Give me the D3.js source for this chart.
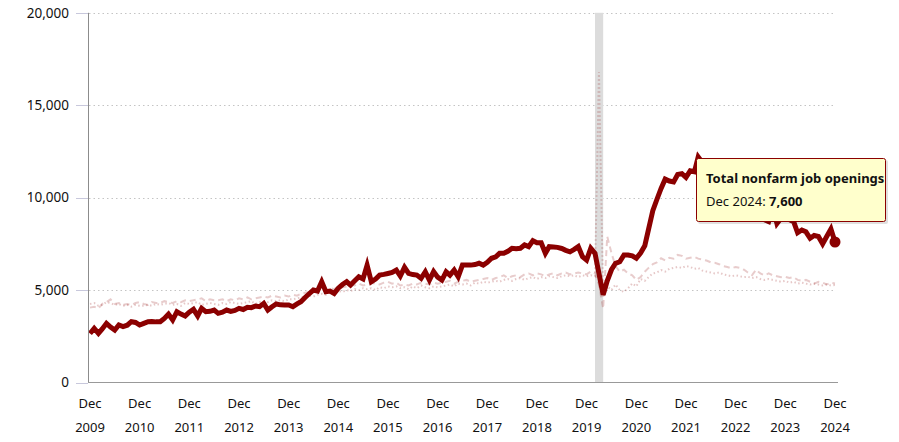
<!DOCTYPE html>
<html>
<head>
<meta charset="utf-8">
<script src="https://cdn.jsdelivr.net/npm/d3@7/dist/d3.min.js"></script>
<style>
  body { margin: 0; background: #fff; }
  text { font-family: "Noto Sans", sans-serif; }
</style>
</head>
<body>
<div id="chart-area"></div>
<script>
// monthly series, Dec 2009 .. Dec 2024 (thousands)
var firstMonth = "2009-12";
var lastMonth = "2024-12";

var openings = [
  2650,
  2930, 2660, 2900, 3200, 3000, 2840, 3110, 3020, 3100, 3290, 3250, 3110,
  3200, 3290, 3300, 3280, 3290, 3470, 3700, 3380, 3830, 3700, 3600, 3800,
  3960, 3600, 4010, 3830, 3850, 3920, 3740, 3800, 3920, 3850, 3900, 4010,
  3950, 4070, 4050, 4140, 4100, 4280, 3920, 4100, 4250, 4200, 4190, 4190,
  4100, 4250, 4370, 4600, 4800, 5000, 4950, 5450, 4910, 4950, 4820, 5100,
  5300, 5450, 5270, 5500, 5720, 5600, 6350, 5450, 5600, 5810, 5850, 5900,
  5950, 6080, 5760, 6230, 5900, 5840, 5810, 5630, 5990, 5540, 6000, 5700,
  5540, 5990, 5810, 6080, 5720, 6350, 6350, 6350, 6380, 6450, 6350, 6500,
  6720, 6800, 6990, 6990, 7100, 7260, 7240, 7260, 7440, 7350, 7670, 7560,
  7560, 6990, 7350, 7330, 7310, 7250, 7150, 7070, 7200, 7350, 6800, 6620,
  7260, 6990, 5900, 4750, 5500, 6100, 6450, 6530, 6900, 6900, 6850, 6720,
  7000, 7400, 8300, 9300, 9900, 10500, 11000, 10900, 10850, 11250, 11300, 11100,
  11450, 11400, 12200, 11900, 11500, 11000, 11200, 10300, 10700, 10500, 10700, 11000,
  10500, 9800, 9700, 10100, 9300, 9100, 8800, 8700, 9500, 8600, 8900, 8900,
  8800, 8700, 8100, 8250, 8150, 7800, 7950, 7900, 7500, 7900, 8300, 7600
];

var hires = [
  4050,
  4100, 4000, 4250, 4350, 4500, 4250, 4300, 4200, 4250, 4200, 4300, 4350,
  4250, 4200, 4350, 4300, 4300, 4400, 4350, 4300, 4400, 4350, 4450, 4400,
  4450, 4500, 4550, 4400, 4500, 4450, 4450, 4500, 4400, 4500, 4450, 4550,
  4500, 4600, 4500, 4550, 4600, 4650, 4600, 4700, 4650, 4600, 4700, 4650,
  4750, 4700, 4800, 4850, 4900, 4950, 5000, 5050, 4950, 5100, 5050, 5200,
  5150, 5200, 5300, 5250, 5350, 5250, 5300, 5400, 5350, 5300, 5400, 5450,
  5350, 5400, 5250, 5300, 5250, 5350, 5300, 5400, 5350, 5300, 5400, 5350,
  5400, 5450, 5500, 5350, 5450, 5500, 5550, 5450, 5500, 5550, 5600, 5650,
  5550, 5650, 5700, 5800, 5650, 5750, 5800, 5700, 5850, 5900, 5800, 5900,
  5850, 5750, 5850, 5900, 5800, 5900, 5950, 5850, 5900, 5950, 5900, 5850,
  6000, 5900, 5300, 4000, 7900, 7000, 6300, 6000, 6100, 5900, 5800, 5550,
  5700, 5990, 6200, 6400, 6500, 6720, 6600, 6750, 6700, 6900, 6850, 6700,
  6750, 6800, 6700, 6650, 6600, 6500, 6480, 6400, 6300, 6250, 6180, 6250,
  6200, 6100, 5950, 5810, 6100, 5900, 5800, 5900, 5800, 5750, 5700, 5720,
  5650, 5700, 5550, 5500, 5550, 5450, 5350, 5450, 5400, 5300, 5400, 5360
];

var separations = [
  4250,
  4300, 4150, 4200, 4350, 4300, 4200, 4250, 4150, 4200, 4100, 4200, 4150,
  4150, 4200, 4150, 4250, 4200, 4250, 4300, 4200, 4250, 4150, 4300, 4250,
  4300, 4350, 4200, 4250, 4300, 4250, 4200, 4300, 4250, 4350, 4300, 4250,
  4300, 4350, 4400, 4250, 4350, 4400, 4350, 4450, 4400, 4450, 4400, 4500,
  4500, 4550, 4600, 4650, 4700, 4650, 4750, 4800, 4750, 4850, 4800, 4950,
  4900, 5000, 4950, 5050, 5000, 5100, 5050, 5100, 5000, 5150, 5100, 5200,
  5150, 5200, 5100, 5150, 5050, 5200, 5100, 5250, 5150, 5100, 5200, 5150,
  5200, 5250, 5300, 5200, 5350, 5300, 5350, 5250, 5400, 5350, 5450, 5400,
  5450, 5500, 5450, 5550, 5600, 5500, 5600, 5650, 5550, 5650, 5700, 5600,
  5700, 5650, 5750, 5700, 5650, 5750, 5800, 5750, 5800, 5700, 5800, 5750,
  5800, 5750, 16800, 4600, 5200, 5000, 5300, 5000, 4900, 5100, 5360, 5200,
  5600, 5500, 5700, 5900, 5950, 6080, 6000, 6150, 6200, 6250, 6200, 6300,
  6250, 6150, 6200, 6050, 6000, 5950, 5900, 5950, 5850, 5800, 5750, 5800,
  5750, 5700, 5720, 5650, 5700, 5600, 5550, 5600, 5550, 5500, 5450, 5500,
  5400, 5450, 5350, 5400, 5350, 5300, 5350, 5300, 5250, 5300, 5250, 5270
];

var yTicks = [0, 5000, 10000, 15000, 20000];
var tickYears = [2009, 2010, 2011, 2012, 2013, 2014, 2015, 2016, 2017, 2018, 2019, 2020, 2021, 2022, 2023, 2024];
var recession = ["2020-02", "2020-04"];
var tipTitle = "Total nonfarm job openings";
var tipLabel = "Dec 2024: ";
var tipValue = "7,600";

var parseMonth = d3.timeParse("%Y-%m");
var months = d3.timeMonth.range(parseMonth(firstMonth), d3.timeMonth.offset(parseMonth(lastMonth), 1));

var width = 899, height = 442;

var svg = d3.select("#chart-area").append("svg")
    .attr("width", width)
    .attr("height", height);

// Scales
var x = d3.scaleTime()
    .domain([parseMonth(firstMonth), parseMonth(lastMonth)])
    .range([90, 835]);
var y = d3.scaleLinear()
    .domain([0, 20000])
    .range([382.5, 12.8]);

// gridlines
svg.append("g").selectAll("line")
    .data(yTicks.filter(function (d) { return d > 0; }))
    .enter().append("line")
    .attr("x1", 89).attr("x2", 836)
    .attr("y1", function (d) { return Math.round(y(d)) + 0.5; })
    .attr("y2", function (d) { return Math.round(y(d)) + 0.5; })
    .attr("stroke", "#c4c4c4")
    .attr("stroke-width", 1)
    .attr("stroke-dasharray", "1.5,3");

// recession shading
svg.append("rect")
    .attr("x", x(parseMonth(recession[0])))
    .attr("width", x(parseMonth(recession[1])) - x(parseMonth(recession[0])))
    .attr("y", y(20000))
    .attr("height", y(0) - y(20000))
    .attr("fill", "#dcdcdc");

var lineGen = function (vals) {
    return d3.line()
        .x(function (d, i) { return x(months[i]); })
        .y(function (d) { return y(d); })(vals);
};

// faded comparison series
svg.append("path")
    .attr("d", lineGen(separations))
    .attr("fill", "none")
    .attr("stroke", "#8b0000")
    .attr("stroke-opacity", 0.22)
    .attr("stroke-width", 2)
    .attr("stroke-dasharray", "1.5,2.5");

svg.append("path")
    .attr("d", lineGen(hires))
    .attr("fill", "none")
    .attr("stroke", "#8b0000")
    .attr("stroke-opacity", 0.2)
    .attr("stroke-width", 2)
    .attr("stroke-dasharray", "6,4");

// main series
svg.append("path")
    .attr("d", lineGen(openings))
    .attr("fill", "none")
    .attr("stroke", "#8b0000")
    .attr("stroke-width", 5)
    .attr("stroke-linejoin", "miter");

// y axis
var yAxis = svg.append("g");
yAxis.append("line")
    .attr("x1", 88.5).attr("x2", 88.5)
    .attr("y1", y(20000)).attr("y2", y(0))
    .attr("stroke", "#8c8c8c");
yAxis.selectAll(".tick")
    .data(yTicks).enter().append("line")
    .attr("x1", 76).attr("x2", 88)
    .attr("y1", function (d) { return Math.round(y(d)) + 0.5; })
    .attr("y2", function (d) { return Math.round(y(d)) + 0.5; })
    .attr("stroke", "#c8c8dc");
yAxis.selectAll("text")
    .data(yTicks).enter().append("text")
    .attr("x", 69)
    .attr("y", function (d) { return y(d); })
    .attr("dy", "0.35em")
    .attr("text-anchor", "end")
    .attr("font-size", 13.5)
    .attr("fill", "#111")
    .text(d3.format(","));

// x axis
svg.append("line")
    .attr("x1", 88).attr("x2", 838)
    .attr("y1", 382.5).attr("y2", 382.5)
    .attr("stroke", "#999");

var xLabels = svg.append("g").selectAll("g")
    .data(tickYears).enter().append("g")
    .attr("transform", function (d) { return "translate(" + x(parseMonth(d + "-12")) + ",0)"; });
xLabels.append("text")
    .attr("y", 408)
    .attr("text-anchor", "middle")
    .attr("font-size", 13)
    .attr("fill", "#111")
    .text("Dec");
xLabels.append("text")
    .attr("y", 431.5)
    .attr("text-anchor", "middle")
    .attr("font-size", 13)
    .attr("fill", "#111")
    .text(function (d) { return d; });

// last point marker
svg.append("circle")
    .attr("cx", x(months[months.length - 1]))
    .attr("cy", y(openings[openings.length - 1]))
    .attr("r", 5.5)
    .attr("fill", "#8b0000");

// tooltip
var tip = svg.append("g");
tip.append("rect")
    .attr("x", 698).attr("y", 160)
    .attr("width", 190).attr("height", 64)
    .attr("rx", 2)
    .attr("fill", "#000").attr("fill-opacity", 0.12);
tip.append("rect")
    .attr("x", 696.5).attr("y", 158.5)
    .attr("width", 189).attr("height", 63)
    .attr("rx", 2)
    .attr("fill", "#ffffcc")
    .attr("stroke", "#8b0000");
tip.append("text")
    .attr("x", 706).attr("y", 183)
    .attr("font-size", 13)
    .attr("font-weight", "bold")
    .attr("fill", "#111")
    .text(tipTitle);
var t2 = tip.append("text")
    .attr("x", 706).attr("y", 206)
    .attr("font-size", 13)
    .attr("fill", "#111");
t2.append("tspan").text(tipLabel);
t2.append("tspan").attr("font-weight", "bold").text(tipValue);
</script>
</body>
</html>
